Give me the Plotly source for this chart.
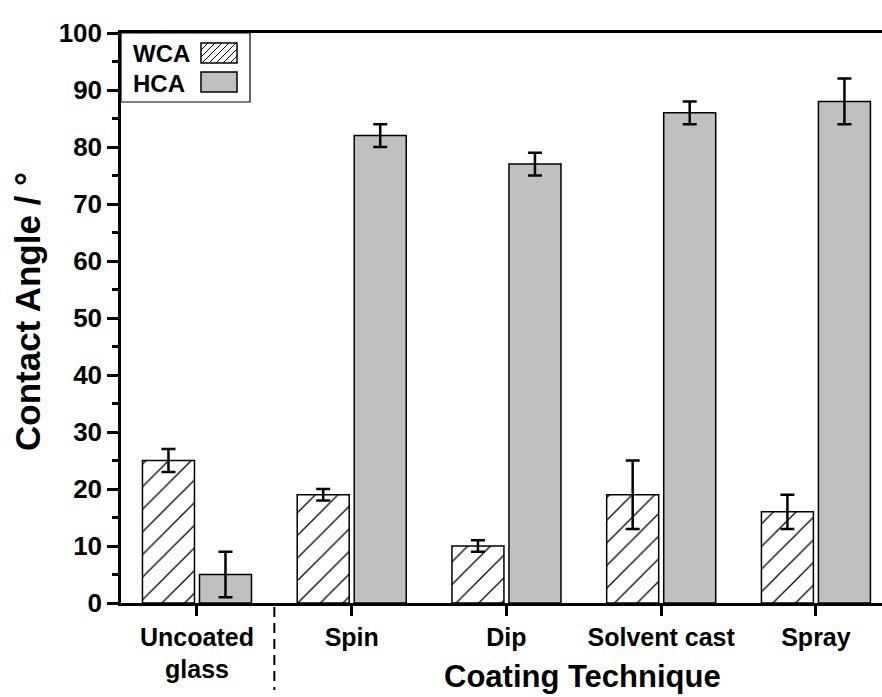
import plotly.graph_objects as go

categories = ["Uncoated<br>glass", "Spin", "Dip", "Solvent cast", "Spray"]
wca = [25, 19, 10, 19, 16]
wca_err = [2, 1, 1, 6, 3]
hca = [5, 82, 77, 86, 88]
hca_err = [4, 2, 2, 2, 4]
y_ticks = [0, 10, 20, 30, 40, 50, 60, 70, 80, 90, 100]

W, H = 882, 697
ML, MR, MT, MB = 121, 0, 33, 94
PW, PH = W - ML - MR, H - MT - MB
FONT = "Liberation Sans, Arial, sans-serif"


def px(x):
    return (x - ML) / PW


def py(y):
    return (H - MB - y) / PH


xidx = list(range(len(categories)))

fig = go.Figure()
fig.add_trace(go.Bar(
    x=xidx, y=wca, name="WCA",
    marker=dict(color="white", line=dict(color="black", width=1.5),
                pattern=dict(shape="/", fgcolor="black", bgcolor="white",
                             size=16, solidity=0.08, fillmode="replace")),
    error_y=dict(type="data", array=wca_err, color="black", thickness=2.5, width=7),
    showlegend=False,
))
fig.add_trace(go.Bar(
    x=xidx, y=hca, name="HCA",
    marker=dict(color="#c0c0c0", line=dict(color="black", width=1.5)),
    error_y=dict(type="data", array=hca_err, color="black", thickness=2.5, width=7),
    showlegend=False,
))

axis_font = dict(family=FONT, size=26, color="black", weight="bold")

fig.update_layout(
    width=W, height=H,
    margin=dict(l=ML, r=MR, t=MT, b=MB, pad=0),
    paper_bgcolor="white", plot_bgcolor="white",
    barmode="group", bargap=0.263, bargroupgap=0.088,
    font=dict(family=FONT, color="black"),
    xaxis=dict(
        range=[-0.491, 4.427], tickmode="array", tickvals=xidx, ticktext=categories,
        showline=True, linecolor="black", linewidth=2.5, mirror=True,
        ticks="outside", ticklen=10, tickwidth=2.5, tickcolor="black",
        tickfont=dict(family=FONT, size=25, color="black", weight="bold"),
        showgrid=False, zeroline=False,
    ),
    yaxis=dict(
        range=[0, 100], tickmode="array", tickvals=y_ticks,
        showline=True, linecolor="black", linewidth=2.5,
        ticks="outside", ticklen=11, tickwidth=2.5, tickcolor="black",
        minor=dict(dtick=5, ticks="outside", ticklen=6, tickwidth=2.5, tickcolor="black"),
        tickfont=axis_font, showgrid=False, zeroline=False,
    ),
)

# axis titles
fig.add_annotation(text="Coating Technique", xref="paper", yref="paper",
                   x=px(582), y=py(676), showarrow=False,
                   font=dict(family=FONT, size=31, color="black", weight="bold"),
                   xanchor="center", yanchor="middle")
fig.add_annotation(text="Contact Angle / °", xref="paper", yref="paper",
                   x=px(27), y=py(312), showarrow=False, textangle=-90,
                   font=dict(family=FONT, size=35, color="black", weight="bold"),
                   xanchor="center", yanchor="middle")

# dashed separator between uncoated and coated
fig.add_shape(type="line", xref="x", yref="paper", x0=0.5, x1=0.5,
              y0=py(607), y1=py(690),
              line=dict(color="black", width=2, dash="10px,6px"))

# custom legend
fig.add_shape(type="rect", xref="paper", yref="paper",
              x0=px(121), x1=px(250), y0=py(33), y1=py(102),
              line=dict(color="black", width=1.2), fillcolor="white", layer="above")
legend_font = dict(family=FONT, size=24, color="black", weight="bold")
fig.add_annotation(text="WCA", xref="paper", yref="paper", x=px(131), y=py(53),
                   showarrow=False, xanchor="left", yanchor="middle", font=legend_font)
fig.add_annotation(text="HCA", xref="paper", yref="paper", x=px(131), y=py(83),
                   showarrow=False, xanchor="left", yanchor="middle", font=legend_font)
# WCA swatch (hatched)
sx0, sx1, sy0, sy1 = 201, 237, 43, 63
fig.add_shape(type="rect", xref="paper", yref="paper",
              x0=px(sx0), x1=px(sx1), y0=py(sy0), y1=py(sy1),
              line=dict(color="black", width=1.5), fillcolor="white", layer="above")
step = 7
hatch_path = []
c = sx0 - (sy1 - sy0) + step
while c < sx1:
    xa, ya = c, sy1
    xb, yb = c + (sy1 - sy0), sy0
    if xa < sx0:
        ya = sy1 - (sx0 - xa)
        xa = sx0
    if xb > sx1:
        yb = sy0 + (xb - sx1)
        xb = sx1
    hatch_path.append(f"M{px(xa)},{py(ya)} L{px(xb)},{py(yb)}")
    c += step
fig.add_shape(type="path", xref="paper", yref="paper", path=" ".join(hatch_path),
              line=dict(color="black", width=1), layer="above")
# HCA swatch
fig.add_shape(type="rect", xref="paper", yref="paper",
              x0=px(sx0), x1=px(sx1), y0=py(72), y1=py(92),
              line=dict(color="black", width=1.5), fillcolor="#c0c0c0", layer="above")

fig.write_html("out.html", config={"displayModeBar": False},
               post_script="document.body.style.margin='0';document.body.style.padding='0';")
